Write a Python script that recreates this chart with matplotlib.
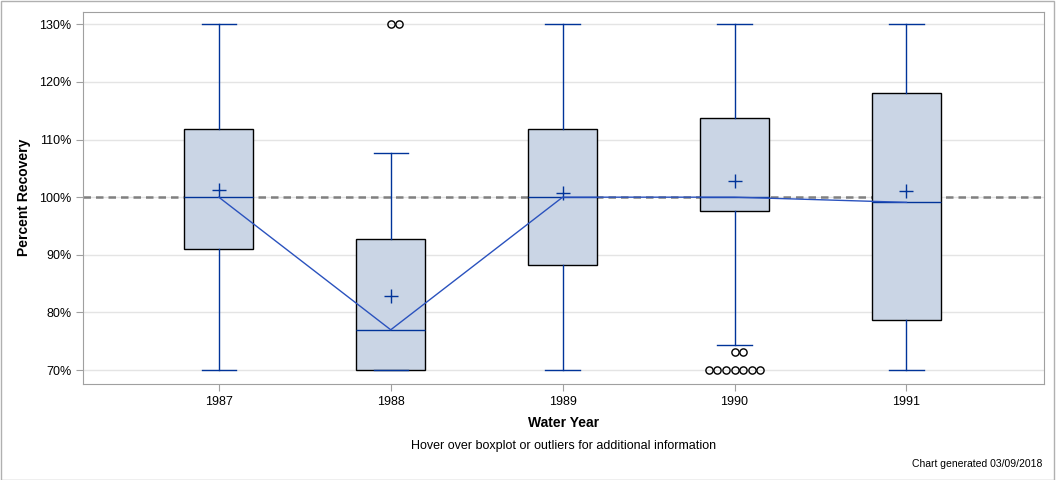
import matplotlib
matplotlib.use('Agg')
import matplotlib.pyplot as plt
from matplotlib.patches import Rectangle
from matplotlib.ticker import FuncFormatter

plt.rcParams['font.family'] = ['Liberation Sans', 'DejaVu Sans']

# Boxplot summary values, percent recovery by water year
years = ['1987', '1988', '1989', '1990', '1991']
q1 = [91.0, 70.0, 88.2, 97.6, 78.7]
median = [100.0, 77.0, 100.0, 100.0, 99.1]
q3 = [111.8, 92.7, 111.8, 113.7, 118.0]
mean = [101.2, 82.9, 100.7, 102.8, 101.1]
whis_lo = [70.0, 70.0, 70.0, 74.3, 70.0]
whis_hi = [130.0, 107.6, 130.0, 130.0, 130.0]
# outliers grouped by value (value, count) per year
outliers = [[], [(130.0, 2)], [], [(73.1, 2), (70.0, 7)], []]

box_edge = '#000000'
box_fill = '#cad5e5'
blue = '#003399'

fig = plt.figure(figsize=(10.56, 4.8), dpi=100)
ax = fig.add_axes([83 / 1056, 1 - 384 / 480, (1044 - 83) / 1056, (384 - 11.5) / 480])

stats = []
for i in range(len(years)):
    stats.append({'label': years[i], 'q1': q1[i], 'med': median[i], 'q3': q3[i],
                  'mean': mean[i], 'whislo': whis_lo[i], 'whishi': whis_hi[i], 'fliers': []})

pos = list(range(len(years)))
res = ax.bxp(stats, positions=pos, widths=0.40, patch_artist=True, showmeans=True,
             showfliers=False, zorder=3,
             boxprops=dict(facecolor=box_fill, edgecolor=box_edge, linewidth=1.0),
             medianprops=dict(color=blue, linewidth=1.0),
             whiskerprops=dict(color=blue, linewidth=1.0),
             capprops=dict(color=blue, linewidth=1.0),
             meanprops=dict(marker='+', markersize=10, markeredgecolor=blue, markeredgewidth=1.0))

# caps are half the box width
for cap in res['caps']:
    xd = cap.get_xdata()
    c = (xd[0] + xd[1]) / 2
    cap.set_xdata([c - 0.1, c + 0.1])

# outliers, spread sideways like the original
for i, groups in enumerate(outliers):
    for val, n in groups:
        xs = [i + (k - (n - 1) // 2) * 0.05 for k in range(n)]
        ax.plot(xs, [val] * n, linestyle='none', marker='o', markersize=5.2,
                markerfacecolor='none', markeredgecolor='black', markeredgewidth=1.0, zorder=4)

# line through medians
ax.plot(pos, median, color='#2a52be', linewidth=1.0, zorder=5)

ax.axhline(100, color='#808080', linestyle=(0, (3, 2)), linewidth=1.8, zorder=2.5)

ax.set_xlim(-0.79, 4.8)
ax.set_ylim(67.6, 132.2)
ax.set_yticks([70, 80, 90, 100, 110, 120, 130])
ax.yaxis.set_major_formatter(FuncFormatter(lambda v, p: '%d%%' % v))
ax.set_xticks(pos)
ax.set_xticklabels(years)
ax.grid(axis='y', color='#e4e4e4', linewidth=1.0, zorder=0)
ax.set_axisbelow(True)
for s in ax.spines.values():
    s.set_color('#a0a0a0')
ax.tick_params(colors='#a0a0a0', labelcolor='black', labelsize=9, length=5)

ax.set_xlabel('Water Year', fontsize=10, fontweight='bold', labelpad=6)
ax.set_ylabel('Percent Recovery', fontsize=10, fontweight='bold', labelpad=6)

fig.text(563.5 / 1056, 1 - 446 / 480, 'Hover over boxplot or outliers for additional information',
         ha='center', va='center', fontsize=9)
fig.text(1042 / 1056, 1 - 464 / 480, 'Chart generated 03/09/2018', ha='right', va='center', fontsize=7.5)

fig.patches.append(Rectangle((0.0005, 0.001), 0.998, 0.997, transform=fig.transFigure,
                             fill=False, edgecolor='#b0b0b0', linewidth=1.0))

fig.savefig('out.png', dpi=100)
